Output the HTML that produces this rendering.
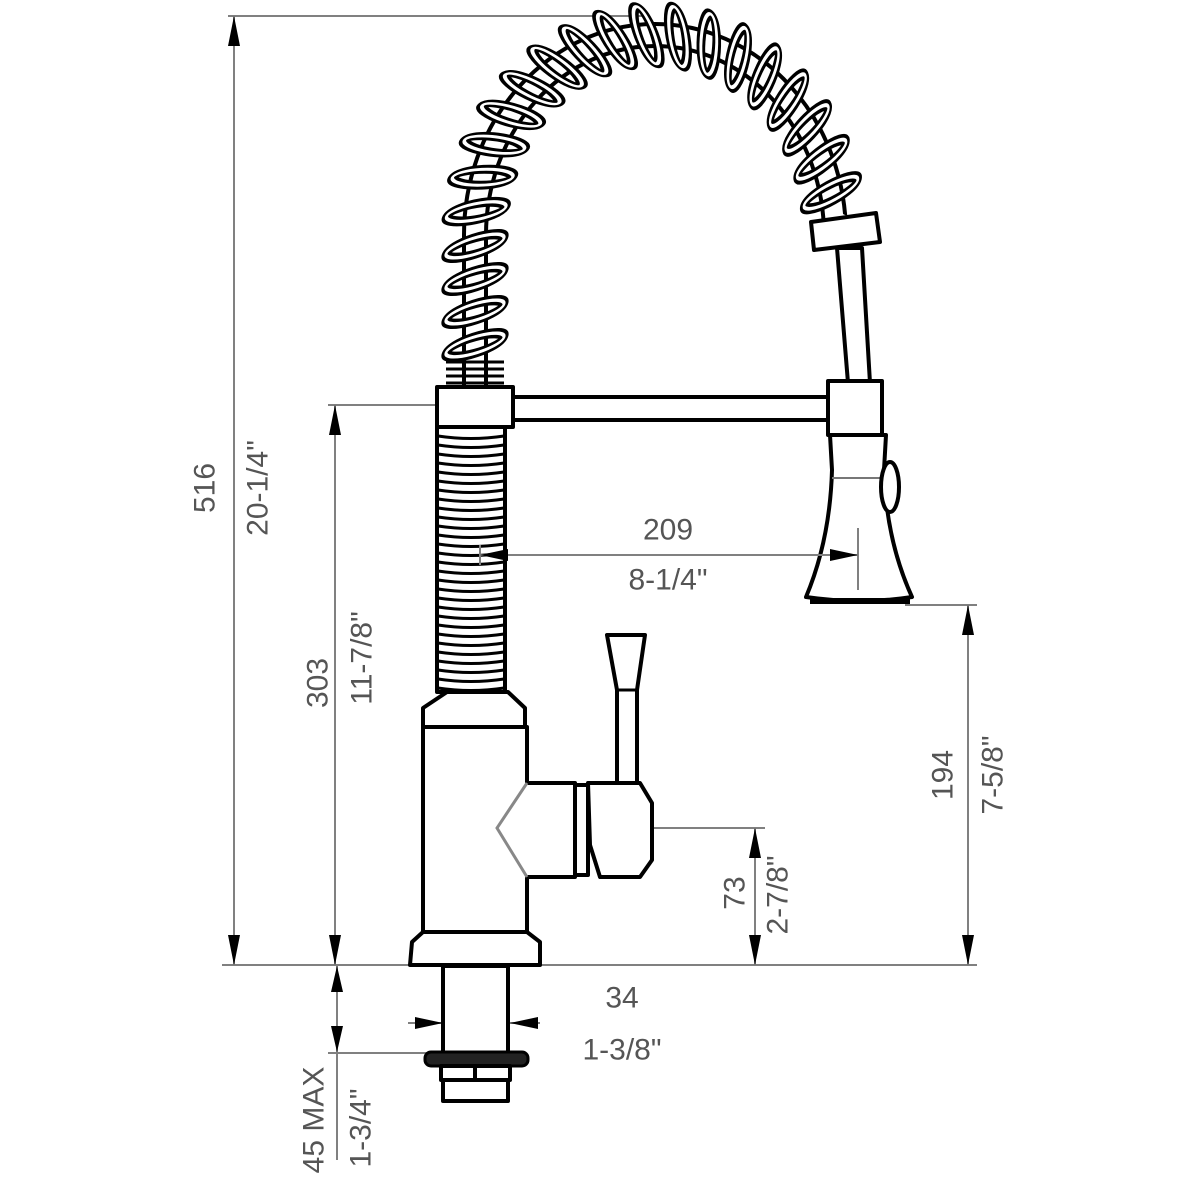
<!DOCTYPE html>
<html><head><meta charset="utf-8"><style>
html,body{margin:0;padding:0;background:#fff}
svg{display:block}
.d{stroke:#808080;stroke-width:2;fill:none}
.t{font-family:"Liberation Sans Narrow","Liberation Sans",sans-serif;font-size:30px;fill:#555;text-anchor:middle;dominant-baseline:central}
.k{stroke:#000;stroke-width:4;fill:#fff;stroke-linejoin:round}
</style></head><body>
<svg id="s" width="1200" height="1200" viewBox="0 0 1200 1200" xmlns="http://www.w3.org/2000/svg">
<path class="d" d="M228 16H650 M234 16V965 M222 965H977 M328 405H438 M335 405V965 M905 605H977 M968 605V965 M652 828H765 M755 828V965 M337 965V1160 M328 1053H430 M408 1023H540"/>
<g fill="#000">
<path d="M234 16l-6 30h12z M234 965l-6 -30h12z"/>
<path d="M335 405l-6 30h12z M335 965l-6 -30h12z"/>
<path d="M968 605l-6 30h12z M968 965l-6 -30h12z"/>
<path d="M755 828l-6 30h12z M755 965l-6 -30h12z"/>
<path d="M337 966l-6 26h12z M337 1052l-6 -26h12z"/>
<path d="M443 1023l-28 -6v12z M510 1023l28 -6v12z"/>
</g>
<text class="t" transform="translate(205,488) rotate(-90)">516</text>
<text class="t" transform="translate(258,488) rotate(-90)">20-1/4"</text>
<text class="t" transform="translate(318,683) rotate(-90)">303</text>
<text class="t" transform="translate(362,658) rotate(-90)">11-7/8"</text>
<text class="t" transform="translate(943,775) rotate(-90)">194</text>
<text class="t" transform="translate(993,775) rotate(-90)">7-5/8"</text>
<text class="t" transform="translate(735,893) rotate(-90)">73</text>
<text class="t" transform="translate(778,895) rotate(-90)">2-7/8"</text>
<text class="t" transform="translate(314,1120) rotate(-90)">45 MAX</text>
<text class="t" transform="translate(361,1128) rotate(-90)">1-3/4"</text>
<text class="t" x="668" y="530">209</text>
<text class="t" x="668" y="580">8-1/4"</text>
<text class="t" x="622" y="998">34</text>
<text class="t" x="622" y="1050">1-3/8"</text>

<path d="M475 385V235 A180 200 0 0 1 835 235 L845 215" stroke="#000" stroke-width="26" fill="none"/>
<path d="M475 385V235 A180 200 0 0 1 835 235 L845 215" stroke="#fff" stroke-width="18" fill="none"/>
<g id="coils"></g>
<g stroke="#000" stroke-width="3" fill="none">
<path d="M446 362h58 M446 369h58 M446 376h58 M446 383h58"/>
</g>

<path class="k" d="M837 248L848 383H870L862 248Z"/>
<path class="k" d="M811 222L876 213L880 242L814 250Z"/>
<rect class="k" x="510" y="397" width="322" height="23"/>
<rect class="k" x="437" y="387" width="76" height="40"/>
<rect class="k" x="828" y="381" width="54" height="54"/>
<path class="k" d="M830 435H886L884 470Q886 540 912 597Q860 605 806 597Q830 540 832 470Z"/>
<path d="M832 478H890" stroke="#777" stroke-width="2"/>
<ellipse cx="890" cy="487" rx="9" ry="25" fill="#fff" stroke="#000" stroke-width="4"/>
<path d="M810 601H910" stroke="#000" stroke-width="6"/>
<rect class="k" x="437" y="427" width="68" height="265"/>
<g id="thr" stroke="#000" stroke-width="3" fill="none"></g>
<path class="k" d="M447 692H508L525 708V727H423V708Z"/>
<path class="k" d="M423 727H527V783H575V877H527V932H423Z"/>
<path d="M527 783L497 828L527 877" stroke="#888" stroke-width="3" fill="none"/>
<path class="k" d="M412 942L423 932H527L540 942V965H410Z"/>
<rect class="k" x="575" y="785" width="13" height="90"/>
<path class="k" d="M607 635H645L637 690V790H617V690Z"/>
<path d="M617 690H637" stroke="#000" stroke-width="3"/>
<path class="k" d="M588 783H640L652 803V860L640 877H600L590 845Z"/>
<rect class="k" x="443" y="966" width="65" height="88"/>
<rect x="425" y="1052" width="103" height="14" rx="6" fill="#222" stroke="#000" stroke-width="3"/>
<rect class="k" x="441" y="1066" width="69" height="14"/>
<path d="M475 1066V1080" stroke="#000" stroke-width="4"/>
<rect class="k" x="443" y="1080" width="65" height="21"/>
<path class="d" d="M480 555H858 M480 545V565 M858 528V590"/>
<path d="M858 555l-28 -6v12z M480 555l28 -6v12z" fill="#000"/>
</svg>
<script>
(function(){
var ns="http://www.w3.org/2000/svg";
var thr=document.getElementById('thr');
for(var y=436;y<690;y+=9){var p=document.createElementNS(ns,'path');p.setAttribute('d','M438 '+y+' Q471 '+(y+5)+' 504 '+y);thr.appendChild(p);}
var g=document.getElementById('coils');
function pt(s){
 if(s<150){return {x:475,y:385-s,a:-Math.PI/2};}
 var t=(s-150)/590*Math.PI; if(t>Math.PI)t=Math.PI;
 var x=655-180*Math.cos(t), y=235-200*Math.sin(t);
 var dx=180*Math.sin(t), dy=-200*Math.cos(t);
 return {x:x,y:y,a:Math.atan2(dy,dx)};
}
for(var s=40;s<730;s+=33){
 var p=pt(s);
 var deg=p.a*180/Math.PI+90-15;
 var e1=document.createElementNS(ns,'ellipse');
 e1.setAttribute('cx',0);e1.setAttribute('cy',0);e1.setAttribute('rx',30);e1.setAttribute('ry',8);
 e1.setAttribute('fill','none');e1.setAttribute('stroke','#000');e1.setAttribute('stroke-width','9');
 var e2=e1.cloneNode();e2.setAttribute('stroke','#fff');e2.setAttribute('stroke-width','3');
 var gg=document.createElementNS(ns,'g');
 gg.setAttribute('transform','translate('+p.x+','+p.y+') rotate('+deg+') skewX(-30)');
 gg.appendChild(e1);gg.appendChild(e2);g.appendChild(gg);
}
})();
</script>
</body></html>
